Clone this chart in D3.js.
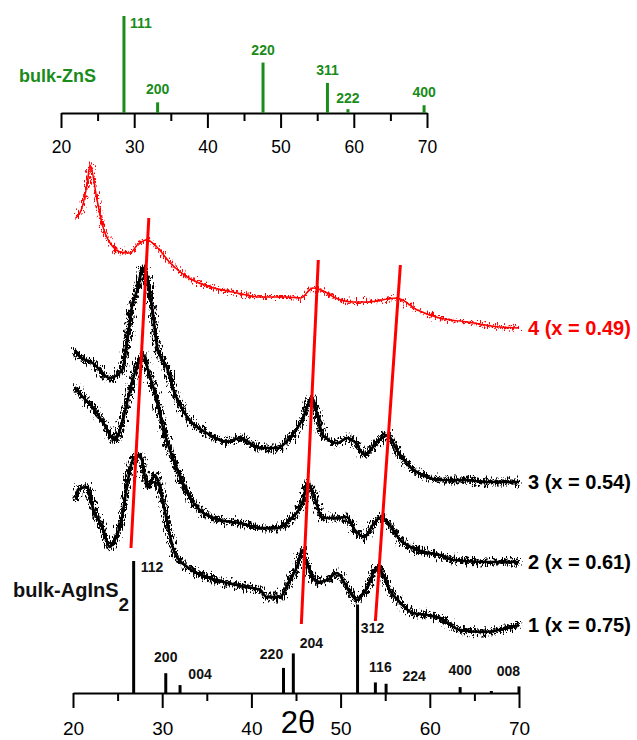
<!DOCTYPE html>
<html lang="en">
<head>
  <meta charset="UTF-8">
  <title>XRD patterns AgInS2-ZnS</title>
  <script src="https://d3js.org/d3.v7.min.js"></script>
  <style>
    body { margin: 0; background: #fff; }
    svg { font-family: "Liberation Sans", Arial, sans-serif; }
  </style>
</head>
<body>
  <svg width="637" height="740"></svg>

  <script>
    // tick values shared by both 2θ axes
    const tickValues = [20, 25, 30, 35, 40, 45, 50, 55, 60, 65, 70];

    // bulk ZnS reference pattern
    const znsPos = [28.6, 33.2, 47.6, 56.4, 59.2, 69.6];
    const znsInt = [100, 11, 52, 31, 4, 8];
    const znsHkl = ["111", "200", "220", "311", "222", "400"];

    // bulk AgInS2 reference pattern
    const agPos = [26.8, 30.4, 32.0, 43.6, 44.7, 51.9, 53.9, 55.1, 63.4, 66.9, 70.0];
    const agInt = [100, 15, 6, 19, 30, 67, 8, 7, 4.5, 1.5, 5];
    const agHkl = ["112", "200", "004", "220", "204", "312", "116", "224", "400", "008", ""];

    // measured patterns, [2θ, intensity a.u. with offset]
    const curve1 = [[20.4,193],[20.5,203],[21.6,206],[22.2,186],[23.4,163],[24.1,146],[24.5,150],[25.5,176],[26.1,210],
      [26.7,233],[27.5,238],[28.4,206],[29.2,218],[29.8,203],[30.5,173],[31.4,140],[32.8,126],[35.0,116],[37.3,110],
      [39.5,106],[41.0,103],[41.7,96],[43.2,96],[44.3,113],[45.1,126],[45.7,143],[46.2,130],[47.4,111],[48.5,113],
      [49.6,120],[50.7,106],[51.8,93],[53.0,106],[54.1,126],[54.6,121],[55.5,103],[56.7,90],[58.1,80],[59.7,78],
      [61.1,75],[63.4,63],[66.0,61],[68.7,65],[70.0,68]];
    const curve2 = [[20.2,306],[21.1,296],[22.2,286],[23.4,270],[24.7,253],[25.5,270],[26.4,303],[27.3,330],[27.9,338],
      [28.4,323],[29.4,293],[30.1,265],[31.4,230],[32.8,200],[34.2,183],[36.5,173],[38.7,170],[41.0,165],[42.9,165],
      [44.3,173],[45.8,193],[46.3,210],[46.9,200],[48.0,175],[49.6,175],[50.7,176],[51.6,163],[52.7,156],[53.6,168],
      [54.6,176],[55.3,170],[56.7,153],[58.6,143],[61.1,138],[62.6,133],[66.4,131],[70.0,131]];
    const curve3 = [[20.2,343],[20.8,336],[22.2,330],[24.1,315],[25.5,323],[26.1,353],[26.6,386],[27.2,403],[27.9,425],
      [28.3,415],[28.9,383],[29.5,343],[30.5,326],[31.4,300],[32.8,276],[35.0,260],[37.3,251],[38.7,255],[41.0,245],
      [42.9,245],[44.3,255],[45.7,273],[46.8,295],[47.4,278],[48.0,258],[49.6,250],[50.8,255],[51.6,251],[52.7,238],
      [54.1,251],[55.3,258],[56.3,243],[57.8,226],[59.7,216],[61.1,213],[63.7,213],[66.4,211],[70.0,211]];
    const curve4 = [[20.3,475],[21.0,485],[21.6,510],[21.9,528],[22.7,493],[23.4,465],[24.5,446],[25.3,441],[26.4,440],
      [27.2,448],[28.3,453],[29.4,446],[30.9,430],[32.8,416],[35.4,406],[37.9,401],[41.0,396],[44.0,396],[45.5,395],
      [46.9,405],[48.5,400],[49.2,396],[51.4,391],[53.0,391],[56.3,395],[58.6,383],[61.1,375],[64.2,371],[67.9,366],
      [70.0,365]];

    const curveLabels = ["1 (x = 0.75)", "2 (x = 0.61)", "3 (x = 0.54)", "4 (x = 0.49)"];

    // red guide lines, [2θ, intensity] at both ends
    const guides = [
      [[26.5, 145], [28.5, 475]],
      [[45.6, 69], [47.5, 433]],
      [[53.9, 72], [56.7, 428]]
    ];

    const green = "#1a8c1a";
    const red = "#ff0000";

    const svg = d3.select("svg");

    // jitter filters give the traces their noisy look
    const defs = svg.append("defs");
    function noiseFilter(id, scale, seed) {
      const f = defs.append("filter").attr("id", id)
        .attr("filterUnits", "userSpaceOnUse")
        .attr("x", 0).attr("y", 0).attr("width", 637).attr("height", 740);
      f.append("feTurbulence").attr("type", "fractalNoise")
        .attr("baseFrequency", "0.9 0.2").attr("numOctaves", 2).attr("seed", seed).attr("result", "t");
      f.append("feDisplacementMap").attr("in", "SourceGraphic").attr("in2", "t")
        .attr("scale", scale).attr("xChannelSelector", "R").attr("yChannelSelector", "G");
    }
    noiseFilter("noiseA", 18, 4);
    noiseFilter("noiseB", 18, 9);
    noiseFilter("noiseR", 14, 4);

    // scales
    const xTop = d3.scaleLinear().domain([20, 70]).range([61, 427]);
    const yTop = d3.scaleLinear().domain([0, 100]).range([113, 16]);
    const xBot = d3.scaleLinear().domain([20, 70]).range([73, 519]);
    const yStick = d3.scaleLinear().domain([0, 100]).range([693, 561]);
    const yCurve = d3.scaleLinear().domain([0, 540]).range([693, 153]);

    function drawAxis(x, yPos, fontSize, labelY) {
      const g = svg.append("g")
        .attr("transform", `translate(0,${yPos})`)
        .call(d3.axisBottom(x).tickValues(tickValues).tickSize(15).tickSizeOuter(0)
          .tickFormat(d => d % 10 === 0 ? d : ""));
      g.select(".domain").attr("stroke", "#000").attr("stroke-width", 2);
      g.selectAll(".tick line").attr("stroke", "#000").attr("stroke-width", 2)
        .attr("y2", d => d % 10 === 0 ? 15 : 8);
      g.selectAll(".tick text")
        .attr("y", labelY).attr("dy", "0.35em")
        .attr("font-size", fontSize).attr("fill", "#000")
        .attr("font-family", "Liberation Sans, Arial, sans-serif");
    }

    // top panel: bulk ZnS
    drawAxis(xTop, 113, 17.5, 34);

    svg.append("g").selectAll("line")
      .data(znsPos)
      .join("line")
      .attr("x1", d => xTop(d)).attr("x2", d => xTop(d))
      .attr("y1", yTop(0)).attr("y2", (d, i) => yTop(znsInt[i]))
      .attr("stroke", green).attr("stroke-width", 3);

    const znsLabelDx = [6, 0, 0, 0, 0, 0];
    const znsLabelDy = [12, -8, -8, -8, -6, -8];
    svg.append("g").selectAll("text")
      .data(znsPos)
      .join("text")
      .attr("x", (d, i) => xTop(d) + znsLabelDx[i])
      .attr("y", (d, i) => yTop(znsInt[i]) + znsLabelDy[i])
      .attr("text-anchor", (d, i) => i === 0 ? "start" : "middle")
      .attr("font-size", 14).attr("font-weight", "bold").attr("fill", green)
      .text((d, i) => znsHkl[i]);

    svg.append("text")
      .attr("x", 19).attr("y", 82)
      .attr("font-size", 18).attr("font-weight", "bold").attr("fill", green)
      .text("bulk-ZnS");

    // bottom panel: bulk AgInS2 sticks
    drawAxis(xBot, 693, 19, 35);

    svg.append("g").selectAll("line")
      .data(agPos)
      .join("line")
      .attr("x1", d => xBot(d)).attr("x2", d => xBot(d))
      .attr("y1", yStick(0)).attr("y2", (d, i) => yStick(agInt[i]))
      .attr("stroke", "#000").attr("stroke-width", 3);

    // label offsets relative to the stick top
    const agLabelX = [7, 0, 20, -12, 18, 15, 5, 28, 0, 17, 0];
    const agLabelY = [11, -11, -6, -9, -5, 28, -10, -3, -12, -15, 0];
    svg.append("g").selectAll("text")
      .data(agPos)
      .join("text")
      .attr("x", (d, i) => xBot(d) + agLabelX[i])
      .attr("y", (d, i) => yStick(agInt[i]) + agLabelY[i])
      .attr("text-anchor", (d, i) => i === 0 ? "start" : "middle")
      .attr("font-size", 14).attr("font-weight", "bold").attr("fill", "#111")
      .text((d, i) => agHkl[i]);

    const agTitle = svg.append("text")
      .attr("x", 13).attr("y", 597)
      .attr("font-size", 20).attr("font-weight", "bold").attr("fill", "#111");
    agTitle.append("tspan").text("bulk-AgInS");
    agTitle.append("tspan").attr("dy", 14).attr("font-size", 19).text("2");

    // measured patterns
    const line = d3.line()
      .x(d => xBot(d[0]))
      .y(d => yCurve(d[1]))
      .curve(d3.curveMonotoneX);

    const curves = [curve1, curve2, curve3, curve4];
    curves.forEach((c, i) => {
      const col = i === 3 ? red : "#000";
      const w = i === 3 ? 1.5 : 2.6;
      svg.append("path").datum(c).attr("d", line)
        .attr("fill", "none").attr("stroke", col).attr("stroke-width", w);
      if (i === 3) {
        svg.append("path").datum(c).attr("d", line)
          .attr("fill", "none").attr("stroke", col).attr("stroke-width", 2)
          .attr("filter", "url(#noiseR)");
      } else {
        svg.append("path").datum(c).attr("d", line)
          .attr("fill", "none").attr("stroke", col).attr("stroke-width", 3)
          .attr("filter", "url(#noiseA)");
        svg.append("path").datum(c).attr("d", line)
          .attr("fill", "none").attr("stroke", col).attr("stroke-width", 3)
          .attr("filter", "url(#noiseB)");
      }
      const last = c[c.length - 1];
      svg.append("text")
        .attr("x", xBot(last[0]) + 9)
        .attr("y", yCurve(last[1]))
        .attr("dy", "0.35em")
        .attr("font-size", 20).attr("font-weight", "bold").attr("fill", col)
        .text(curveLabels[i]);
    });

    // red guide lines
    svg.append("g").selectAll("line")
      .data(guides)
      .join("line")
      .attr("x1", d => xBot(d[0][0])).attr("y1", d => yCurve(d[0][1]))
      .attr("x2", d => xBot(d[1][0])).attr("y2", d => yCurve(d[1][1]))
      .attr("stroke", red).attr("stroke-width", 3);

    // 2θ axis title
    svg.append("text")
      .attr("x", 298).attr("y", 733)
      .attr("text-anchor", "middle")
      .attr("font-size", 31).attr("fill", "#000")
      .text("2θ");
  </script>
</body>
</html>
